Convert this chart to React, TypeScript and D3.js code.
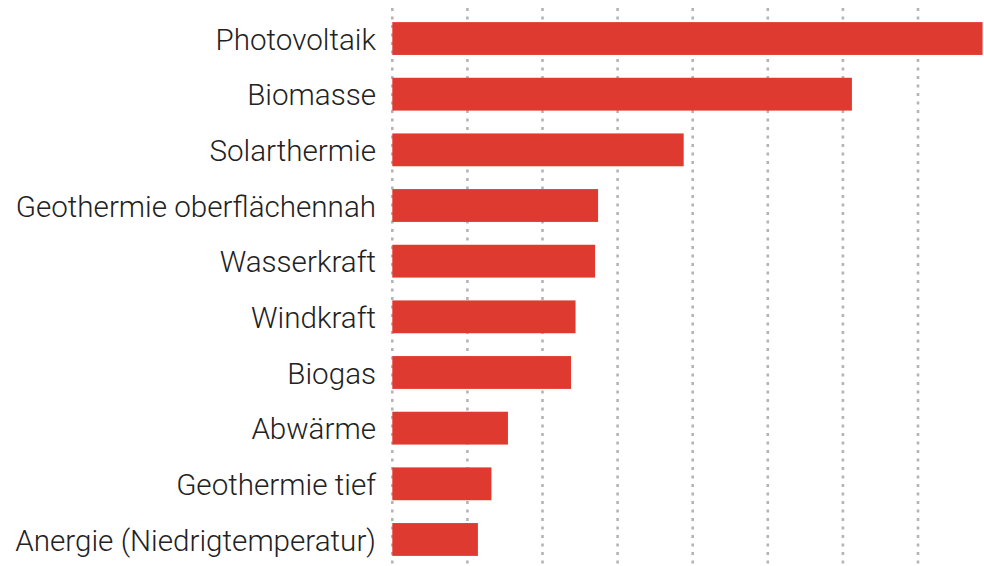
import { useEffect, useRef } from 'react';
import * as d3 from 'd3';

const categories = [
  'Photovoltaik',
  'Biomasse',
  'Solarthermie',
  'Geothermie oberflächennah',
  'Wasserkraft',
  'Windkraft',
  'Biogas',
  'Abwärme',
  'Geothermie tief',
  'Anergie (Niedrigtemperatur)',
];

const values = [39.3, 30.6, 19.4, 13.7, 13.5, 12.2, 11.9, 7.7, 6.6, 5.7];

const gridTicks = [0, 5, 10, 15, 20, 25, 30, 35];

const width = 984;
const height = 566;

const App = () => {
  const svgRef = useRef<SVGSVGElement>(null);

  useEffect(() => {
    if (!svgRef.current) return;
    const svg = d3.select(svgRef.current);
    svg.selectAll('*').remove();

    // 5 units per 75.1px, starting at x = 392.3
    const x = d3.scaleLinear().domain([0, 40]).range([392.3, 392.3 + 8 * 75.1]);
    const y = d3.scaleBand<string>()
      .domain(categories)
      .range([22 - 11.3, 556 + 11.3])
      .paddingInner(0.41)
      .paddingOuter(0.205);

    const g = svg.append('g');

    // dotted grid lines
    g.selectAll('.grid')
      .data(gridTicks)
      .enter()
      .append('line')
      .attr('class', 'grid')
      .attr('x1', d => x(d))
      .attr('x2', d => x(d))
      .attr('y1', 8)
      .attr('y2', height)
      .attr('stroke', '#b4b4b4')
      .attr('stroke-width', 2.6)
      .attr('stroke-dasharray', '3,5.5');

    // bars
    g.selectAll('.bar')
      .data(values)
      .enter()
      .append('rect')
      .attr('class', 'bar')
      .attr('x', x(0))
      .attr('y', (d, i) => y(categories[i])!)
      .attr('width', d => x(d) - x(0))
      .attr('height', y.bandwidth())
      .attr('fill', '#de3a30');

    // labels
    g.selectAll('.label')
      .data(categories)
      .enter()
      .append('text')
      .attr('class', 'label')
      .attr('x', 376)
      .attr('y', d => y(d)! + y.bandwidth() / 2)
      .attr('dy', '0.38em')
      .attr('text-anchor', 'end')
      .style('font-family', 'Roboto, sans-serif')
      .style('font-weight', 300)
      .style('font-size', '29.6px')
      .style('fill', '#222')
      .text(d => d);
  }, []);

  return (
    <svg
      ref={svgRef}
      width={width}
      height={height}
      style={{ position: 'absolute', left: 0, top: 0, background: '#fff' }}
    />
  );
};

export default App;
